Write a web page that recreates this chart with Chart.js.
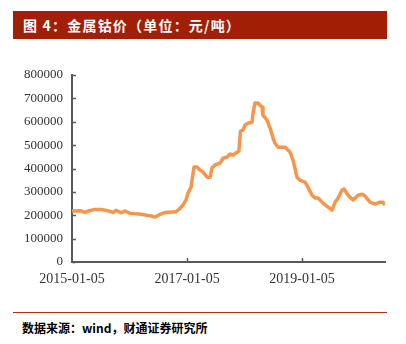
<!DOCTYPE html>
<html>
<head>
<meta charset="utf-8">
<script src="https://cdn.jsdelivr.net/npm/chart.js@4/dist/chart.umd.min.js"></script>
<style>
  html, body { margin: 0; padding: 0; background: #fff; }
  body { width: 406px; height: 344px; position: relative; overflow: hidden; }
  .title {
    position: absolute; left: 13px; top: 11px; width: 374px; height: 28px;
    background: #a21f06; color: #fff;
    font: bold 14px "Noto Sans CJK SC", sans-serif; letter-spacing: 1.2px;
    line-height: 28px; padding-left: 10px; box-sizing: border-box;
  }
  .chart-box { position: absolute; left: 0; top: 50px; width: 406px; height: 250px; }
  .rule { position: absolute; left: 13px; top: 312px; width: 374px; height: 0; border-top: 1.5px solid #c0281a; }
  .source {
    position: absolute; left: 22px; top: 319px;
    font: bold 12px "Noto Sans CJK SC", sans-serif; color: #000; letter-spacing: 0;
  }
</style>
</head>
<body>
<div class="title">图 4：金属钴价（单位：元/吨）</div>
<div class="chart-box"><canvas id="cobalt"></canvas></div>
<div class="rule"></div>
<div class="source">数据来源：wind，财通证券研究所</div>

<script>
// cobalt price, yuan per tonne
const dates = [
  '2015-01-05', '2015-03-03', '2015-03-29', '2015-04-17', '2015-05-31', '2015-07-08',
  '2015-08-22', '2015-09-22', '2015-10-11', '2015-11-12', '2015-12-08', '2016-01-08',
  '2016-03-18', '2016-05-21', '2016-06-15', '2016-07-17', '2016-08-18', '2016-10-27',
  '2016-11-21', '2016-12-10', '2016-12-29', '2017-01-11', '2017-01-30', '2017-02-12',
  '2017-02-18', '2017-03-09', '2017-03-28', '2017-04-16', '2017-05-12', '2017-05-31',
  '2017-06-12', '2017-07-01', '2017-08-02', '2017-08-21', '2017-09-16', '2017-10-05',
  '2017-10-24', '2017-11-18', '2017-11-30', '2017-12-10', '2017-12-26', '2018-01-08',
  '2018-01-27', '2018-02-21', '2018-02-28', '2018-03-12', '2018-03-31', '2018-04-26',
  '2018-05-02', '2018-05-28', '2018-06-16', '2018-07-05', '2018-07-17', '2018-08-06',
  '2018-09-19', '2018-10-08', '2018-10-21', '2018-11-09', '2018-12-04', '2018-12-23',
  '2019-01-24', '2019-02-12', '2019-03-09', '2019-03-29', '2019-04-17', '2019-05-18',
  '2019-06-19', '2019-07-15', '2019-08-03', '2019-08-22', '2019-09-16', '2019-09-29',
  '2019-10-24', '2019-11-25', '2019-12-27', '2020-01-21', '2020-02-09', '2020-03-12',
  '2020-04-13', '2020-05-14', '2020-06-02', '2020-06-15'
];
const prices = [
  218000, 219000, 212000, 218000, 225000, 225000,
  219000, 212000, 221000, 211000, 218000, 208000,
  204000, 197000, 192000, 204000, 212000, 215000,
  229000, 244000, 265000, 295000, 320000, 380000,
  406000, 406000, 393000, 385000, 363000, 363000,
  402000, 415000, 423000, 444000, 449000, 462000,
  457000, 470000, 475000, 560000, 564000, 585000,
  594000, 598000, 637000, 680000, 680000, 662000,
  628000, 607000, 573000, 530000, 509000, 491000,
  491000, 479000, 470000, 436000, 363000, 350000,
  342000, 320000, 286000, 274000, 274000, 252000,
  235000, 222000, 256000, 274000, 308000, 312000,
  286000, 265000, 286000, 290000, 282000, 256000,
  248000, 256000, 256000, 244000
];
const xTickDates = ['2015-01-05', '2017-01-05', '2019-01-05'];
const yTicks = [0, 100000, 200000, 300000, 400000, 500000, 600000, 700000, 800000];

const DAY = 86400000;
const toDay = s => {
  const [y, m, d] = s.split('-').map(Number);
  return Date.UTC(y, m - 1, d) / DAY;
};
const day0 = toDay(dates[0]);
const points = dates.map((d, i) => ({ x: toDay(d) - day0, y: prices[i] }));

const axisColor = '#595959';

// short tick marks pointing into the plot
const innerTicks = {
  id: 'innerTicks',
  afterDraw(chart) {
    const { ctx, chartArea, scales } = chart;
    ctx.save();
    ctx.strokeStyle = axisColor;
    ctx.lineWidth = 1.5;
    ctx.beginPath();
    scales.y.ticks.forEach(t => {
      const py = Math.round(scales.y.getPixelForValue(t.value)) + 0.5;
      ctx.moveTo(chartArea.left, py);
      ctx.lineTo(chartArea.left + 4, py);
    });
    scales.x.ticks.forEach((t, i) => {
      if (i === 0) return;
      const px = Math.round(scales.x.getPixelForValue(t.value)) + 0.5;
      ctx.moveTo(px, chartArea.bottom);
      ctx.lineTo(px, chartArea.bottom - 4);
    });
    ctx.stroke();
    ctx.restore();
  }
};

new Chart(document.getElementById('cobalt'), {
  type: 'line',
  data: {
    datasets: [{
      data: points,
      borderColor: '#f7964a',
      borderWidth: 3.5,
      borderJoinStyle: 'round',
      pointRadius: 0,
      tension: 0,
      fill: false
    }]
  },
  options: {
    responsive: true,
    maintainAspectRatio: false,
    animation: false,
    layout: { padding: { top: 25, right: 21, bottom: 0, left: 0 } },
    plugins: { legend: { display: false }, tooltip: { enabled: false } },
    scales: {
      x: {
        type: 'linear',
        min: 0,
        max: toDay(dates[dates.length - 1]) - day0,
        afterBuildTicks: scale => {
          scale.ticks = xTickDates.map(d => ({ value: toDay(d) - day0 }));
        },
        afterFit: scale => { scale.height = 38; },
        grid: { drawOnChartArea: false, drawTicks: false },
        border: { display: true, color: axisColor, width: 2 },
        ticks: {
          autoSkip: false,
          maxRotation: 0,
          padding: 9,
          color: '#333',
          font: { family: '"Liberation Serif", "Times New Roman", serif', size: 14 },
          callback: (v, i) => xTickDates[i]
        }
      },
      y: {
        min: 0,
        max: 800000,
        afterBuildTicks: scale => {
          scale.ticks = yTicks.map(v => ({ value: v }));
        },
        afterFit: scale => { scale.width = 72; },
        grid: { drawOnChartArea: false, drawTicks: false },
        border: { display: true, color: axisColor, width: 2 },
        ticks: {
          padding: 9,
          color: '#333',
          font: { family: '"Liberation Serif", "Times New Roman", serif', size: 13 },
          callback: v => String(v)
        }
      }
    }
  },
  plugins: [innerTicks]
});
</script>
</body>
</html>
